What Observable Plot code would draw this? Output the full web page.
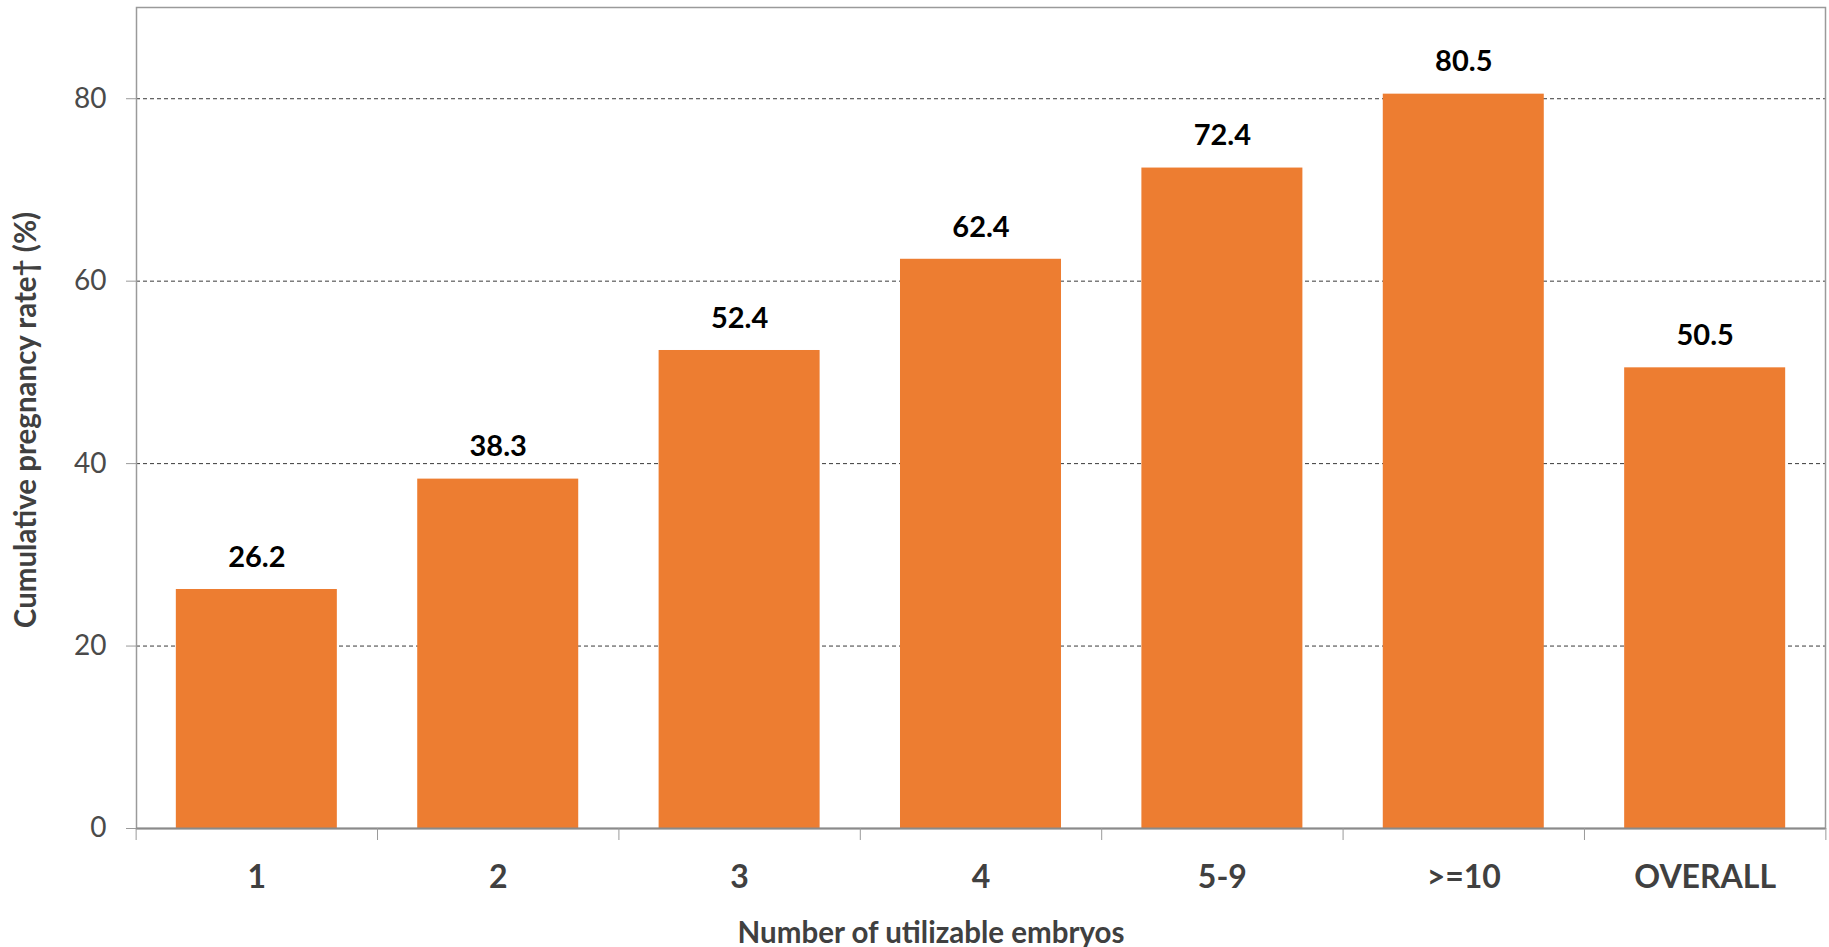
<!DOCTYPE html>
<html>
<head>
<meta charset="utf-8">
<script src="https://cdn.jsdelivr.net/npm/d3@7"></script>
<script src="https://cdn.jsdelivr.net/npm/@observablehq/plot@0.6"></script>
<style>
  html, body { margin: 0; padding: 0; background: #fff; }
  #chart svg { display: block; }
</style>
</head>
<body>
<div id="chart"></div>
<script>
// Data
const categories = ["1", "2", "3", "4", "5-9", ">=10", "OVERALL"];
const rates = [26.2, 38.3, 52.4, 62.4, 72.4, 80.5, 50.5];
const yTicks = [0, 20, 40, 60, 80];
const gridTicks = [20, 40, 60, 80];
const xTitle = "Number of utilizable embryos";
const yTitle = "Cumulative pregnancy rate\u2020 (%)";

const data = categories.map((c, i) => ({cat: c, value: rates[i]}));

const W = 1829, H = 947;
const mL = 136, mR = 4, mT = 7, mB = 119;
const pInner = 0.333, pOuter = 0.165;
const step = (W - mL - mR) / (categories.length - pInner + 2 * pOuter);

const font = "Lato, 'Open Sans', sans-serif";
const axisColor = "#404040";

const chart = Plot.plot({
  width: W,
  height: H,
  marginLeft: mL,
  marginRight: mR,
  marginTop: mT,
  marginBottom: mB,
  style: {fontFamily: font, background: "#fff", overflow: "visible"},
  x: {domain: categories, paddingInner: pInner, paddingOuter: pOuter, round: false, label: null},
  y: {domain: [0, 90], label: null},
  marks: [
    Plot.gridY(gridTicks, {stroke: "#3a3a3a", strokeOpacity: 1, strokeDasharray: "4,3", strokeWidth: 1}),
    Plot.frame({stroke: "#9a9a9a", strokeWidth: 1.5}),
    Plot.barY(data, {x: "cat", y: "value", fill: "#ED7D31"}),
    Plot.ruleY([0], {stroke: "#8a8a8a", strokeWidth: 2}),
    Plot.axisY({ticks: yTicks, tickSize: 10, tickPadding: 20, fontSize: 28, color: "#4a4a4a", stroke: "#9a9a9a", tickFormat: d => String(d), label: null}),
    Plot.axisX({tickSize: 12, tickFormat: () => "", dx: -step / 2, stroke: "#9a9a9a", label: null}),
    Plot.axisX({ticks: [categories[categories.length - 1]], tickSize: 12, tickFormat: () => "", dx: step / 2, stroke: "#9a9a9a", label: null}),
    Plot.axisX({tickSize: 0, tickPadding: 37, fontSize: 32, fontWeight: "bold", color: axisColor, label: null}),
    Plot.text(data, {x: "cat", y: "value", text: d => d.value.toFixed(1), dy: -32, lineAnchor: "middle", fontSize: 29, fontWeight: "bold", fill: "#000"}),
    Plot.text([xTitle], {frameAnchor: "bottom", dy: 105, dx: -50, lineAnchor: "middle", textAnchor: "middle", fontSize: 29.5, fontWeight: "bold", fill: axisColor}),
    Plot.text([yTitle], {frameAnchor: "left", dx: -110, dy: 2, rotate: -90, lineAnchor: "middle", textAnchor: "middle", fontSize: 29.5, fontWeight: "bold", fill: axisColor})
  ]
});

document.getElementById("chart").appendChild(chart);
</script>
</body>
</html>
